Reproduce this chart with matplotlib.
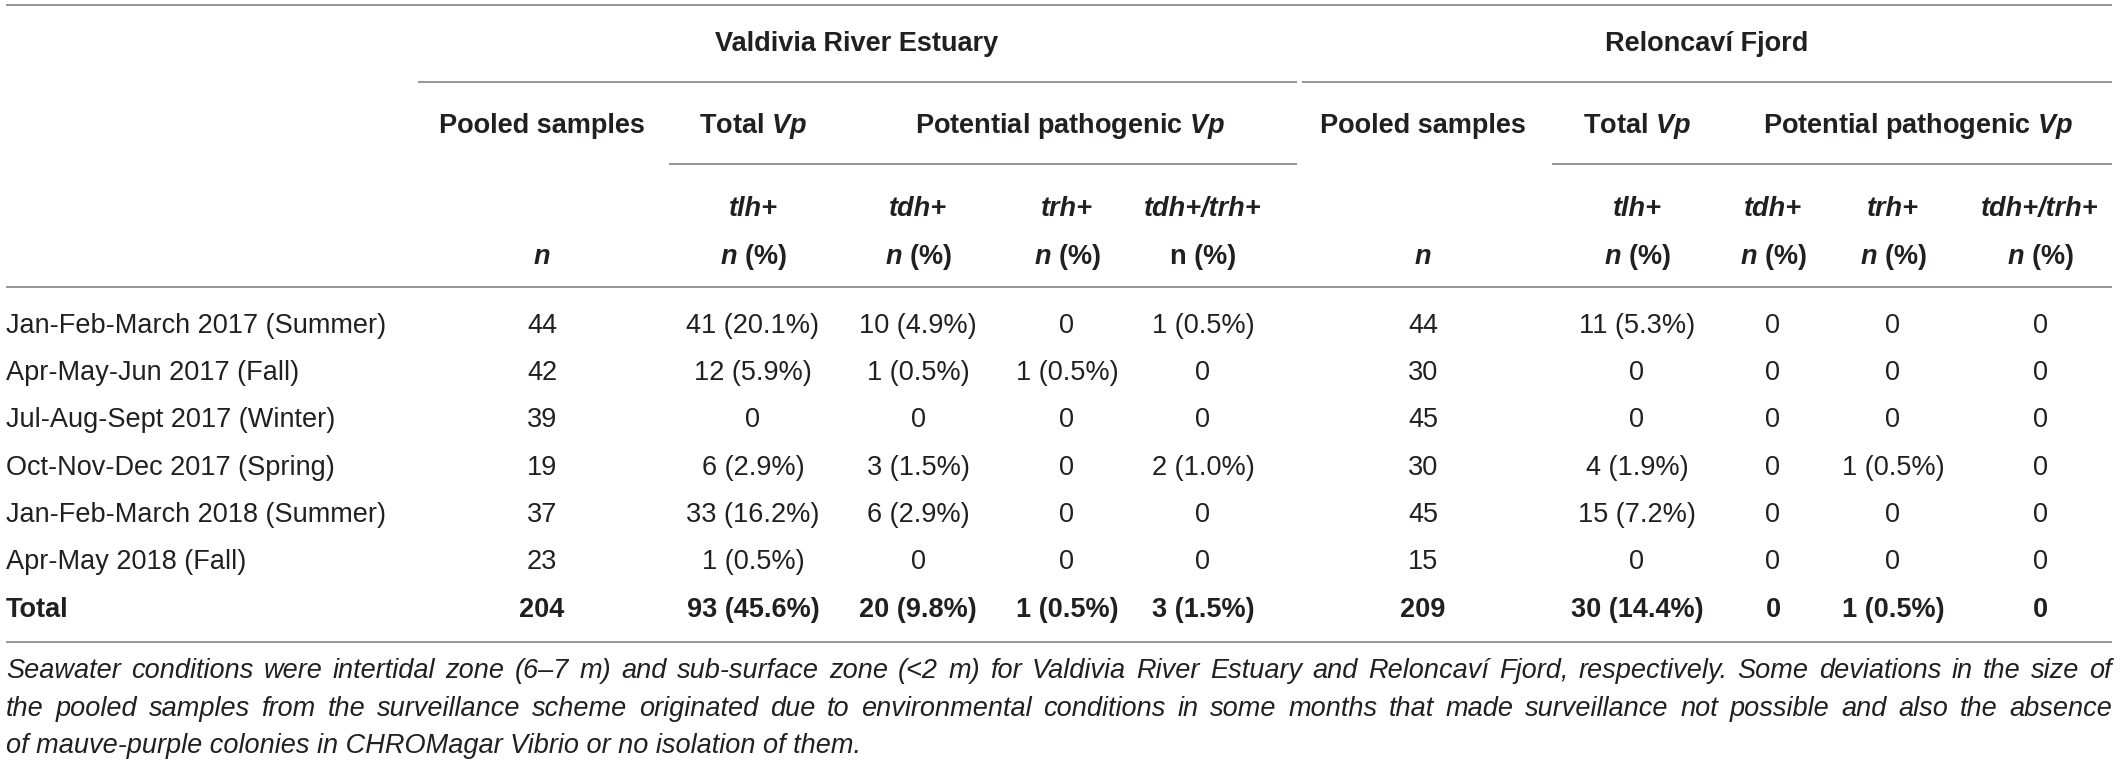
import matplotlib
matplotlib.use("Agg")
import matplotlib.pyplot as plt

plt.rcParams["font.family"] = "Liberation Sans"
plt.rcParams["mathtext.fontset"] = "custom"
plt.rcParams["mathtext.rm"] = "Liberation Sans"
plt.rcParams["mathtext.it"] = "Liberation Sans:italic"
plt.rcParams["mathtext.bf"] = "Liberation Sans:bold"
plt.rcParams["mathtext.bfit"] = "Liberation Sans:bold:italic"

### data ###
row_labels = ["Jan-Feb-March 2017 (Summer)", "Apr-May-Jun 2017 (Fall)",
              "Jul-Aug-Sept 2017 (Winter)", "Oct-Nov-Dec 2017 (Spring)",
              "Jan-Feb-March 2018 (Summer)", "Apr-May 2018 (Fall)", "Total"]

# Valdivia River Estuary (last item = Total)
vald_n = [44, 42, 39, 19, 37, 23, 204]
vald_tlh = [41, 12, 0, 6, 33, 1, 93]
vald_tlh_pct = [20.1, 5.9, 0, 2.9, 16.2, 0.5, 45.6]
vald_tdh = [10, 1, 0, 3, 6, 0, 20]
vald_tdh_pct = [4.9, 0.5, 0, 1.5, 2.9, 0, 9.8]
vald_trh = [0, 1, 0, 0, 0, 0, 1]
vald_trh_pct = [0, 0.5, 0, 0, 0, 0, 0.5]
vald_both = [1, 0, 0, 2, 0, 0, 3]
vald_both_pct = [0.5, 0, 0, 1.0, 0, 0, 1.5]

# Reloncaví Fjord (last item = Total)
rel_n = [44, 30, 45, 30, 45, 15, 209]
rel_tlh = [11, 0, 0, 4, 15, 0, 30]
rel_tlh_pct = [5.3, 0, 0, 1.9, 7.2, 0, 14.4]
rel_tdh = [0, 0, 0, 0, 0, 0, 0]
rel_tdh_pct = [0, 0, 0, 0, 0, 0, 0]
rel_trh = [0, 0, 0, 1, 0, 0, 1]
rel_trh_pct = [0, 0, 0, 0.5, 0, 0, 0.5]
rel_both = [0, 0, 0, 0, 0, 0, 0]
rel_both_pct = [0, 0, 0, 0, 0, 0, 0]

footnote_lines = [
    "Seawater conditions were intertidal zone (6\u20137 m) and sub-surface zone (<2 m) for "
    "Valdivia River Estuary and Reloncav\u00ed Fjord, respectively. Some deviations in the size of",
    "the pooled samples from the surveillance scheme originated due to environmental conditions "
    "in some months that made surveillance not possible and also the absence",
    "of mauve-purple colonies in CHROMagar Vibrio or no isolation of them.",
]

### layout (pixel units) ###
W, H = 2121, 766
TXT = "#231f20"
LINE = "#8c8c8c"
FS = 19.5
X_LEFT, X_RIGHT = 6, 2112

fig = plt.figure(figsize=(W / 100, H / 100), dpi=100)
ax = fig.add_axes([0, 0, 1, 1])
ax.set_xlim(0, W)
ax.set_ylim(H, 0)
ax.axis("off")


def hline(y, x0, x1):
    ax.plot([x0, x1], [y, y], color=LINE, lw=1.3, solid_capstyle="butt")


def fmt(c, p):
    return "0" if c == 0 else "{} ({:.1f}%)".format(c, p)


# rules
hline(5, X_LEFT, X_RIGHT)
hline(82, 418, 1297)
hline(82, 1302, X_RIGHT)
hline(164, 669, 1297)
hline(164, 1552, X_RIGHT)
hline(287, X_LEFT, X_RIGHT)
hline(642, X_LEFT, X_RIGHT)

hdr = dict(ha="center", va="baseline", color=TXT, fontsize=FS, fontweight="bold")

# group headers
ax.text(857, 51, "Valdivia River Estuary", **hdr)
ax.text(1707, 51, "Reloncav\u00ed Fjord", **hdr)

# column headers
cols_v = [542, 753, 918, 1067, 1203]
cols_r = [1423, 1637, 1773, 1893, 2040]
for cols, pot_x in [(cols_v, 1070), (cols_r, 1918)]:
    ax.text(cols[0], 133, "Pooled samples", **hdr)
    ax.text(cols[1], 133, r"Total $\mathbfit{Vp}$", **hdr)
    ax.text(pot_x, 133, r"Potential pathogenic $\mathbfit{Vp}$", **hdr)
    for x, lab in zip(cols[1:], ["tlh+", "tdh+", "trh+", "tdh+/trh+"]):
        ax.text(x, 216, lab, style="italic", **hdr)
    ax.text(cols[0], 264, "n", style="italic", **hdr)
    for x in cols[1:4]:
        ax.text(x, 264, r"$\mathbfit{n}$ (%)", **hdr)
# last sub-column: roman n in Valdivia, italic n in Reloncaví
ax.text(cols_v[4], 264, "n (%)", **hdr)
ax.text(cols_r[4], 264, r"$\mathbfit{n}$ (%)", **hdr)

# body
row_y = [333, 380, 427, 475, 522, 569, 617]
series_v = [(vald_tlh, vald_tlh_pct), (vald_tdh, vald_tdh_pct),
            (vald_trh, vald_trh_pct), (vald_both, vald_both_pct)]
series_r = [(rel_tlh, rel_tlh_pct), (rel_tdh, rel_tdh_pct),
            (rel_trh, rel_trh_pct), (rel_both, rel_both_pct)]

for i, y in enumerate(row_y):
    weight = "bold" if i == len(row_y) - 1 else "normal"
    cell = dict(ha="center", va="baseline", color=TXT, fontsize=FS, fontweight=weight)
    ax.text(X_LEFT, y, row_labels[i], ha="left", va="baseline", color=TXT,
            fontsize=FS, fontweight=weight)
    ax.text(cols_v[0], y, str(vald_n[i]), **cell)
    ax.text(cols_r[0], y, str(rel_n[i]), **cell)
    for x, (c, p) in zip(cols_v[1:], series_v):
        ax.text(x, y, fmt(c[i], p[i]), **cell)
    for x, (c, p) in zip(cols_r[1:], series_r):
        ax.text(x, y, fmt(c[i], p[i]), **cell)

# footnote, justified like the source (last line left-aligned)
foot_y = [678, 716, 753]
foot_kw = dict(ha="left", va="baseline", color=TXT, fontsize=FS, style="italic")
renderer = fig.canvas.get_renderer()


def width_of(s):
    t = ax.text(0, 0, s, **foot_kw)
    w = t.get_window_extent(renderer).width
    t.remove()
    return w


line_width = X_RIGHT - X_LEFT
for li, (ln, y) in enumerate(zip(footnote_lines, foot_y)):
    if li == len(footnote_lines) - 1:
        ax.text(X_LEFT, y, ln, **foot_kw)
        continue
    words = ln.split(" ")
    ws = [width_of(w) for w in words]
    gap = (line_width - sum(ws)) / max(len(words) - 1, 1)
    x = X_LEFT
    for w, wd in zip(words, ws):
        ax.text(x, y, w, **foot_kw)
        x += wd + gap

fig.savefig("out.png", dpi=100)
